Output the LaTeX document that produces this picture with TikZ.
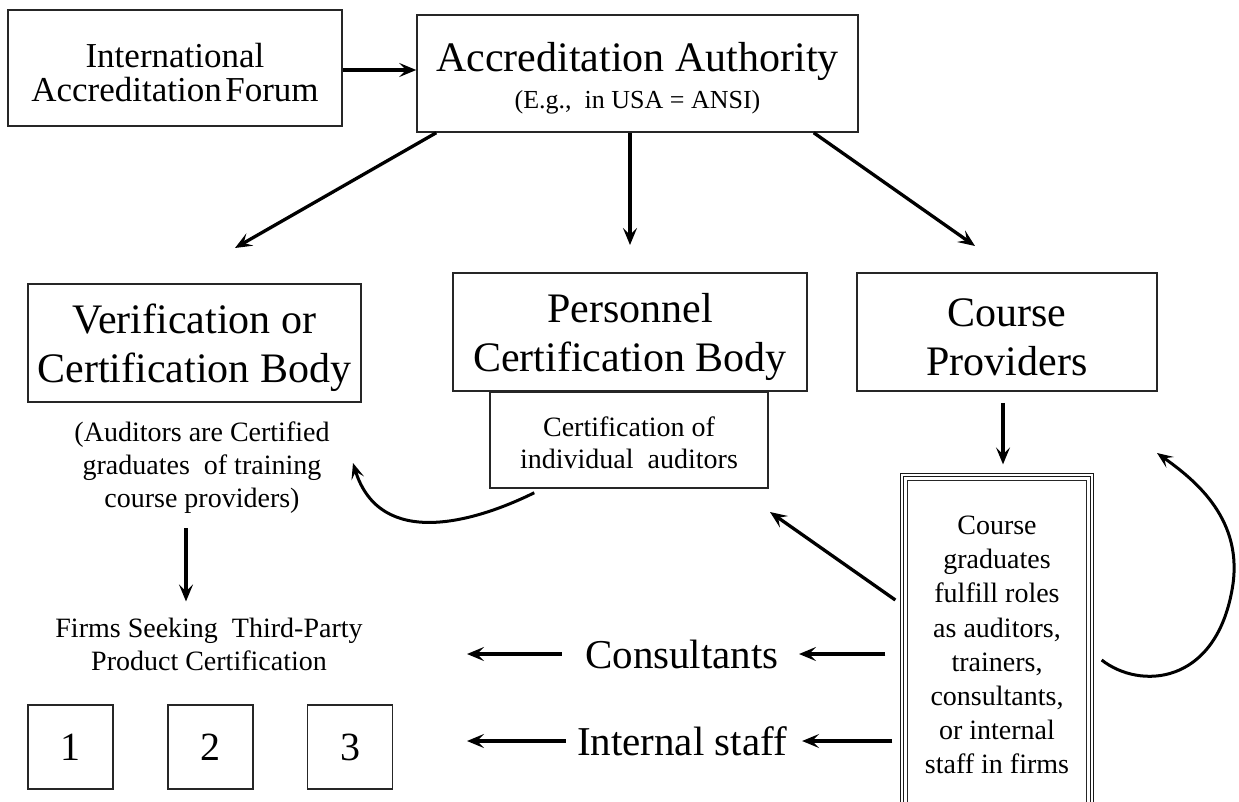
\documentclass[tikz,border=0pt]{standalone}
\usepackage{fontspec}
\setmainfont{Liberation Serif}
\usetikzlibrary{arrows.meta}
\newcommand{\fs}[2]{\fontsize{#1}{#2}\selectfont}
\newcommand{\up}{\rule{0pt}{0.93em}}
\begin{document}
\begin{tikzpicture}[x=1pt,y=-1pt,
  box/.style={draw=black!85, line width=1.5pt, inner sep=0pt, align=center},
  txt/.style={inner sep=0pt, align=center},
  arr/.style={-{Stealth[length=17pt,width=14pt,inset=7pt]}, line width=3.3pt},
  curv/.style={-{Stealth[length=16pt,width=13pt,inset=7pt]}, line width=3pt}]
\useasboundingbox[fill=white] (0,0) rectangle (1239,801);

% top row
\node[box, minimum width=334pt, minimum height=116pt, font=\fs{35}{34}] (iaf) at (175,68)
  {\up International\\Accreditation\hspace{0.1em}Forum};
\node[box, minimum width=441pt, minimum height=117pt, font=\fs{42}{37}] (aa) at (637.5,73.5)
  {\up Accreditation Authority\\{\fs{26}{37}(E.g., \ in USA = ANSI)}};

% middle row
\node[box, minimum width=333pt, minimum height=118pt, font=\fs{42}{49}] (ver) at (194.5,343)
  {\up Verification or\\Certification Body};
\node[box, minimum width=354pt, minimum height=118pt, font=\fs{42}{49}] (per) at (630,332)
  {\up Personnel\\Certification Body};
\node[box, minimum width=278pt, minimum height=96pt, font=\fs{28}{32}] (cert) at (629,440)
  {\up Certification of\\individual \ auditors};
\node[box, minimum width=300pt, minimum height=118pt, font=\fs{42}{49}] (cp) at (1007,332)
  {\up Course\\Providers};

% course graduates box (triple border)
\node[draw=black!90, line width=1.3pt, double=white, double distance=1.3pt,
      minimum width=190pt, minimum height=340pt, inner sep=0pt] (grad) at (997,645) {};
\draw[black!85, line width=1pt] ([xshift=6pt,yshift=-6pt]grad.north west) rectangle ([xshift=-6pt,yshift=6pt]grad.south east);
\node[txt, font=\fs{28}{34.1}] (gradtxt) at (997,645)
  {Course\\graduates\\fulfill roles\\as auditors,\\trainers,\\consultants,\\or internal\\staff in firms};

% left column texts
\node[txt, font=\fs{28}{33}] (versub) at (202,468)
  {(Auditors are Certified\\graduates \ of training\\course providers)};
\node[txt, font=\fs{28}{33}] (firms) at (209,644)
  {Firms Seeking \ Third-Party\\Product Certification};
\foreach \i/\x in {1/70.5,2/210.5,3/350}{
  \node[box, minimum width=85pt, minimum height=84pt, font=\fs{40}{44}] (f\i) at (\x,747) {\i};
}

% role labels
\node[txt, font=\fs{41}{44}] (cons) at (682,654) {Consultants};
\node[txt, font=\fs{41}{44}] (staff) at (682,741) {Internal staff};

% free arrow ends
\coordinate (tipV) at (235,248);
\coordinate (tipP) at (630,245);
\coordinate (tipC) at (975,246);
\coordinate (tipVer) at (353,463);
\coordinate (tipPer) at (770,512);
\coordinate (tipLoop) at (1157,453);
\coordinate (tipCons) at (467,654);
\coordinate (tipStaff) at (467,741);

% arrows
\draw[arr] (iaf.east |- 0,70) -- (aa.west |- 0,70);
\draw[arr] ([xshift=20pt]aa.south west) -- (tipV);
\draw[arr] (aa.south -| tipP) -- (tipP);
\draw[arr] ([xshift=-45pt]aa.south east) -- (tipC);
\draw[arr] ([xshift=-4pt,yshift=-11pt]cp.south) -- ([xshift=6pt,yshift=10pt]grad.north);
\draw[arr] (versub.south -| 186,0) ++(0,14) -- ([xshift=-23pt,yshift=16pt]firms.north);

\draw[curv] ([xshift=45pt,yshift=-4pt]cert.south west) .. controls (475,522) and (380,550) .. (tipVer);
\draw[arr] ([xshift=-6pt,yshift=45pt]grad.west) -- (tipPer);
\draw[curv] ([xshift=9pt,yshift=-15pt]grad.east) .. controls (1140,690) and (1215,685) .. (1232,590)
  .. controls (1245,520) and (1195,480) .. (tipLoop);

\draw[arr] (grad.west |- cons) ++(-16,0) -- ([xshift=20pt]cons.east);
\draw[arr] ([xshift=-23pt]cons.west) -- (tipCons);
\draw[arr] (grad.west |- staff) ++(-9,0) -- ([xshift=15pt]staff.east);
\draw[arr] ([xshift=-11pt]staff.west) -- (tipStaff);
\end{tikzpicture}
\end{document}
